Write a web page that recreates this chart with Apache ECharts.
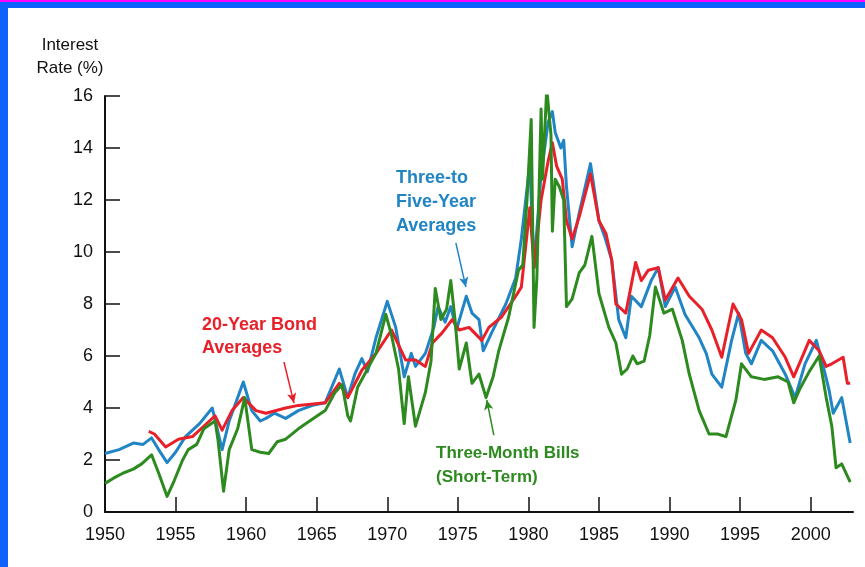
<!DOCTYPE html>
<html>
<head>
<meta charset="utf-8">
<script src="https://cdn.jsdelivr.net/npm/echarts@6/dist/echarts.min.js"></script>
<style>
html,body{margin:0;padding:0;background:#fff;}
#chart{width:865px;height:567px;}
</style>
</head>
<body>
<div id="chart"></div>
<script>
// ---- Data ----
const xTickYears = [1955, 1960, 1965, 1970, 1975, 1980, 1985, 1990, 1995, 2000];
const xLabelYears = [1950, 1955, 1960, 1965, 1970, 1975, 1980, 1985, 1990, 1995, 2000];

const billYears = [1950.0,1950.6,1951.3,1952.0,1952.6,1953.3,1953.8,1954.4,1954.9,1955.5,1955.9,1956.5,1957.0,1957.8,1958.0,1958.4,1958.8,1959.4,1959.9,1960.4,1961.0,1961.6,1962.2,1962.8,1963.7,1964.5,1965.6,1966.3,1966.8,1967.2,1967.4,1967.9,1968.5,1969.2,1969.9,1970.3,1970.8,1971.2,1971.5,1972.0,1972.7,1973.1,1973.4,1973.8,1974.2,1974.5,1974.8,1975.1,1975.6,1976.0,1976.5,1977.0,1977.5,1977.9,1978.6,1979.3,1979.6,1979.9,1980.2,1980.4,1980.6,1980.9,1981.0,1981.3,1981.6,1981.7,1981.9,1982.2,1982.5,1982.7,1983.1,1983.6,1984.0,1984.5,1985.0,1985.7,1986.2,1986.6,1987.0,1987.4,1987.7,1988.2,1988.6,1989.0,1989.6,1990.2,1990.9,1991.4,1992.1,1992.8,1993.4,1994.0,1994.7,1995.1,1995.8,1996.7,1997.7,1998.4,1998.8,1999.2,1999.9,2000.6,2001.1,2001.5,2001.8,2002.2,2002.8];
const billRates = [1.1,1.3,1.5,1.65,1.85,2.2,1.5,0.6,1.2,2.0,2.4,2.6,3.2,3.5,2.8,0.8,2.4,3.2,4.4,2.4,2.3,2.25,2.7,2.8,3.2,3.5,3.9,4.6,4.9,3.7,3.5,4.8,5.4,6.1,7.6,6.8,5.5,3.4,5.2,3.3,4.6,5.8,8.6,7.4,7.8,8.9,7.4,5.5,6.5,4.95,5.3,4.4,5.2,6.2,7.5,9.3,9.5,12.0,15.1,7.1,9.0,15.5,12.8,16.3,14.5,10.8,12.8,12.5,12.0,7.9,8.2,9.2,9.5,10.6,8.4,7.1,6.5,5.3,5.5,6.0,5.7,5.8,6.8,8.65,7.65,7.8,6.6,5.3,3.9,3.0,3.0,2.9,4.3,5.7,5.2,5.1,5.2,5.0,4.2,4.7,5.4,6.0,4.4,3.3,1.7,1.85,1.15];

const midYears = [1950.0,1951.0,1952.0,1952.7,1953.3,1953.8,1954.4,1955.0,1955.7,1956.7,1957.6,1958.3,1958.8,1959.8,1960.4,1961.0,1961.4,1962.0,1962.8,1963.7,1964.7,1965.6,1966.6,1967.2,1967.7,1968.2,1968.6,1969.2,1970.0,1970.6,1971.2,1971.7,1972.0,1972.7,1973.3,1973.6,1974.1,1974.5,1974.9,1975.6,1976.0,1976.5,1976.8,1977.4,1978.4,1979.1,1979.5,1980.1,1980.4,1980.9,1981.4,1981.7,1981.9,1982.3,1982.5,1982.7,1983.1,1983.6,1984.4,1985.0,1985.4,1985.9,1986.4,1986.9,1987.3,1988.0,1988.7,1989.2,1989.7,1990.4,1991.1,1992.1,1992.6,1993.0,1993.7,1994.4,1994.9,1995.4,1995.8,1996.5,1997.3,1998.2,1998.9,1999.6,2000.4,2000.8,2001.3,2001.6,2002.2,2002.8];
const midRates = [2.25,2.4,2.65,2.6,2.85,2.4,1.9,2.3,2.9,3.4,4.0,2.4,3.5,5.0,3.9,3.5,3.6,3.8,3.6,3.9,4.1,4.2,5.5,4.4,5.3,5.9,5.4,6.7,8.1,7.1,5.2,6.1,5.6,6.1,7.1,7.9,7.3,7.9,7.0,8.3,7.65,7.4,6.2,6.9,8.0,9.0,10.5,13.4,9.4,13.0,15.0,15.4,14.6,14.0,14.3,12.5,10.2,11.5,13.4,11.2,10.6,9.7,7.4,6.7,8.3,7.9,8.9,9.4,7.9,8.65,7.6,6.7,6.1,5.3,4.8,6.6,7.65,6.1,5.7,6.6,6.2,5.3,4.4,5.7,6.6,5.8,4.7,3.8,4.4,2.65];

const bondYears = [1953.1,1953.5,1954.3,1955.2,1956.2,1957.4,1957.8,1958.3,1959.0,1959.8,1960.7,1961.4,1962.8,1963.7,1965.6,1966.6,1967.2,1968.2,1969.2,1970.3,1971.3,1972.0,1972.7,1973.2,1973.9,1974.6,1975.1,1975.8,1976.7,1977.2,1978.1,1979.1,1979.5,1980.1,1980.4,1980.9,1981.4,1981.7,1982.0,1982.4,1982.7,1983.1,1983.6,1984.4,1985.0,1985.5,1985.9,1986.2,1986.9,1987.6,1988.0,1988.5,1989.2,1989.7,1990.6,1991.4,1992.3,1993.0,1993.7,1994.5,1995.1,1995.6,1996.5,1997.3,1998.2,1998.8,1999.9,2000.6,2001.1,2001.5,2002.3,2002.6,2002.8];
const bondRates = [3.1,3.0,2.5,2.8,2.9,3.5,3.7,3.15,3.9,4.4,3.9,3.8,4.0,4.1,4.2,4.95,4.4,5.45,6.1,7.0,5.85,5.85,5.6,6.5,6.9,7.4,7.0,7.1,6.6,7.1,7.5,8.3,8.65,11.7,9.4,12.0,13.5,14.2,13.3,12.8,11.2,10.5,11.35,13.0,11.2,10.7,9.7,8.0,7.65,9.6,8.9,9.3,9.4,8.15,9.0,8.3,7.8,7.0,5.95,8.0,7.4,6.1,7.0,6.7,5.95,5.2,6.6,6.2,5.6,5.7,5.95,4.95,4.95];

// annotation arrows (data space): [fromYear, fromRate, toYear, toRate]
const midArrow = [1974.86, 10.35, 1975.57, 8.65];
const bondArrow = [1962.68, 5.77, 1963.39, 4.19];
const billArrow = [1977.55, 2.96, 1977.05, 4.31];

const BLUE = '#2185c5', RED = '#e8202a', GREEN = '#2d8a1f';
const pairs = (xs, ys) => xs.map((x, i) => [x, ys[i]]);
const arrowLine = (a, color) => ({
  silent: true, symbol: ['none', 'arrow'], symbolSize: [7, 10],
  label: {show: false},
  lineStyle: {color: color, width: 1.5, type: 'solid'},
  data: [[{coord: [a[0], a[1]]}, {coord: [a[2], a[3]]}]]
});

const chart = echarts.init(document.getElementById('chart'));
chart.setOption({
  animation: false,
  backgroundColor: '#ffffff',
  grid: {left: 105, top: 96, right: 12, bottom: 55, containLabel: false},
  xAxis: {
    type: 'value', min: 1950, max: 2003,
    axisLine: {lineStyle: {color: '#111', width: 2}},
    axisTick: {inside: true, length: 15, customValues: xTickYears, lineStyle: {color: '#111', width: 1.5}},
    axisLabel: {customValues: xLabelYears, formatter: v => String(Math.round(v)), fontSize: 18, color: '#111', margin: 14, fontFamily: 'Liberation Sans, Arial, sans-serif'},
    splitLine: {show: false}
  },
  yAxis: {
    type: 'value', min: 0, max: 16, interval: 2,
    axisLine: {show: true, lineStyle: {color: '#111', width: 2}},
    axisTick: {show: true, inside: true, length: 15, lineStyle: {color: '#111', width: 1.5}},
    axisLabel: {fontSize: 18, color: '#111', margin: 12, fontFamily: 'Liberation Sans, Arial, sans-serif'},
    splitLine: {show: false}
  },
  series: [
    {type: 'line', name: 'Three-to Five-Year Averages', data: pairs(midYears, midRates), showSymbol: false, symbol: 'none',
     lineStyle: {color: BLUE, width: 3, join: 'round'}, markLine: arrowLine(midArrow, BLUE), z: 2},
    {type: 'line', name: '20-Year Bond Averages', data: pairs(bondYears, bondRates), showSymbol: false, symbol: 'none',
     lineStyle: {color: RED, width: 3, join: 'round'}, markLine: arrowLine(bondArrow, RED), z: 3},
    {type: 'line', name: 'Three-Month Bills', data: pairs(billYears, billRates), showSymbol: false, symbol: 'none',
     lineStyle: {color: GREEN, width: 3, join: 'round'}, markLine: arrowLine(billArrow, GREEN), z: 4}
  ],
  graphic: [
    {type: 'rect', left: 0, top: 0, shape: {width: 865, height: 8}, style: {fill: '#0f62fe'}, z: 100},
    {type: 'rect', left: 0, top: 0, shape: {width: 865, height: 2}, style: {fill: '#ff00ff'}, z: 101},
    {type: 'rect', left: 0, top: 0, shape: {width: 8, height: 567}, style: {fill: '#0f62fe'}, z: 100},
    {type: 'text', x: 70, y: 45, style: {text: 'Interest', fill: '#111', font: '17px "Liberation Sans", Arial, sans-serif', textAlign: 'center', textVerticalAlign: 'middle'}},
    {type: 'text', x: 70, y: 68, style: {text: 'Rate (%)', fill: '#111', font: '17px "Liberation Sans", Arial, sans-serif', textAlign: 'center', textVerticalAlign: 'middle'}},
    {type: 'text', x: 396, y: 166, style: {text: 'Three-to\nFive-Year\nAverages', fill: BLUE, font: 'bold 18px "Liberation Sans", Arial, sans-serif', lineHeight: 24, textAlign: 'left'}},
    {type: 'text', x: 202, y: 314, style: {text: '20-Year Bond\nAverages', fill: RED, font: 'bold 18px "Liberation Sans", Arial, sans-serif', lineHeight: 23, textAlign: 'left'}},
    {type: 'text', x: 436, y: 441, style: {text: 'Three-Month Bills\n(Short-Term)', fill: GREEN, font: 'bold 17px "Liberation Sans", Arial, sans-serif', lineHeight: 24, textAlign: 'left'}}
  ]
});
</script>
</body>
</html>
